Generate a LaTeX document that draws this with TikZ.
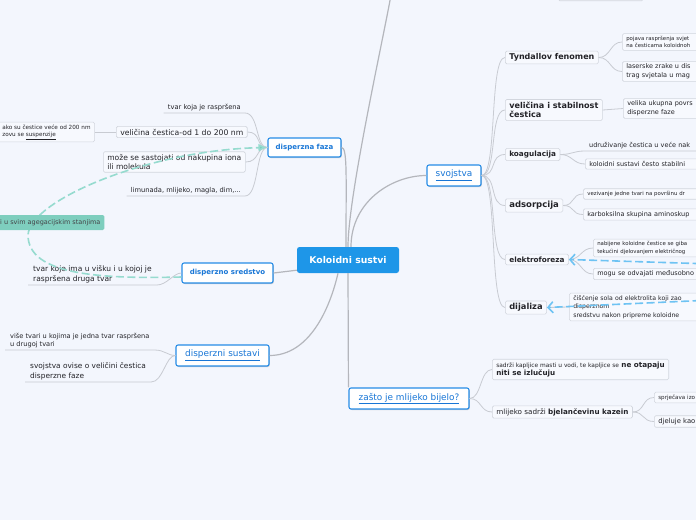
\documentclass[tikz,border=0pt]{standalone}
\usepackage{fontspec}
\setmainfont{DejaVu Sans}
\usetikzlibrary{arrows.meta,calc,shadows}
\definecolor{bgc}{RGB}{243,246,253}
\definecolor{rootblue}{RGB}{30,150,232}
\definecolor{mblue}{RGB}{38,140,230}
\definecolor{mtext}{RGB}{24,118,214}
\definecolor{boxgray}{RGB}{210,214,222}
\definecolor{boxfill}{RGB}{247,249,254}
\definecolor{lgray}{RGB}{200,203,210}
\definecolor{mgray}{RGB}{180,182,188}
\definecolor{txt}{RGB}{35,35,40}
\definecolor{tealfill}{RGB}{126,206,190}
\definecolor{tealline}{RGB}{150,219,207}
\definecolor{tealtip}{RGB}{120,205,190}
\definecolor{relblue}{RGB}{110,195,243}
\newcommand\fsz[2]{\fontsize{#1}{#2}\selectfont}
\tikzset{
 bx/.style={draw=boxgray, fill=boxfill, rounded corners=1.5pt, line width=0.6pt, inner xsep=4pt, inner ysep=2.5pt, align=left, text=txt, anchor=west},
 plain/.style={inner xsep=4pt, inner ysep=2pt, align=left, text=txt},
 rootnode/.style={fill=rootblue, rounded corners=2.5pt, text=white, font=\fsz{9.3}{11}\bfseries, minimum width=102pt, minimum height=26pt, inner sep=0pt},
 mainnode/.style={draw=mblue, line width=1.1pt, fill=white, rounded corners=2pt, text=mtext, inner sep=0pt, drop shadow={shadow xshift=0.8pt, shadow yshift=-1pt, fill=black, opacity=0.18}},
 conn/.style={draw=lgray, line width=0.8pt},
 mconn/.style={draw=mgray, line width=1.2pt},
 rel/.style={dash pattern=on 8pt off 3.5pt, line width=1.6pt},
}
\begin{document}
\begin{tikzpicture}[x=1pt,y=-1pt]
\useasboundingbox (0,0) rectangle (696,520);
\fill[bgc] (0,0) rectangle (696,520);
\clip (0,0) rectangle (696,520);

% ---------- main nodes
\node[rootnode] (root) at (348,260) {Koloidni sustvi};
\node[mainnode, font=\fsz{7}{8.5}\bfseries, minimum width=73pt, minimum height=19pt] (df) at (304.5,147.5) {disperzna faza};
\node[mainnode, font=\fsz{7}{8.5}\bfseries, minimum width=91pt, minimum height=20pt] (ds) at (227.5,273) {disperzno sredstvo};
\node[mainnode, font=\fsz{8.9}{10.5}, minimum width=93pt, minimum height=21pt] (dsu) at (222.5,355.5) {\underline{disperzni sustavi}};
\node[mainnode, font=\fsz{8.9}{10.5}, minimum width=54pt, minimum height=21pt] (svo) at (454,175.5) {\underline{svojstva}};
\node[mainnode, font=\fsz{8.9}{10.5}, minimum width=120pt, minimum height=21pt] (mlij) at (409,398.5) {\underline{zašto je mlijeko bijelo?}};
\node[bx, anchor=south west, minimum width=85pt, minimum height=20pt] (topbox) at (558,1) {};
\coordinate (topend) at (391,-5);

% ---------- left side
\node[plain, anchor=south east, font=\fsz{6.7}{8}] (t1) at (245,113) {tvar koja je raspršena};
\node[bx, font=\fsz{7.7}{9}] (veli) at (116,132) {veličina čestica-od 1 do 200 nm};
\node[bx, font=\fsz{5.7}{7}] (ako) at (-2,132) {ako su čestice veće od 200 nm\\zovu se \underline{suspenzije}};
\node[bx, font=\fsz{7.6}{9.3}] (moze) at (103,162) {može se sastojati od nakupina iona\\ili molekula};
\node[plain, anchor=south east, font=\fsz{6.7}{8}] (lim) at (245,196) {limunada, mlijeko, magla, dim,...};
\node[plain, anchor=south west, inner xsep=5pt, font=\fsz{7.5}{9.5}] (t2) at (28,285) {tvar koje ima u višku i u kojoj je\\raspršena druga tvar};
\node[plain, anchor=south west, inner xsep=5pt, font=\fsz{6.6}{8}] (vise) at (5,350) {više tvari u kojima je jedna tvar raspršena\\u drugoj tvari};
\node[plain, anchor=south west, inner xsep=5pt, font=\fsz{7.4}{9.5}] (sv) at (25,382) {svojstva ovise o veličini čestica\\disperzne faze};

% ---------- right side (svojstva)
\node[bx, font=\fsz{8}{9.5}\bfseries] (tyn) at (505,57.5) {Tyndallov fenomen};
\node[bx, font=\fsz{5.4}{7.3}, text width=110pt] (tyn1) at (622,42) {pojava raspršenja svjet\\na česticama koloidnoh};
\node[bx, font=\fsz{6.5}{8.6}, text width=110pt] (tyn2) at (622,71.5) {laserske zrake u dis\\trag svjetala u mag};
\node[bx, font=\fsz{8.1}{9.5}\bfseries] (vel) at (505,110) {veličina i stabilnost\\čestica};
\node[bx, font=\fsz{6.5}{8.6}, text width=110pt] (vel1) at (623,108.5) {velika ukupna povrs\\disperzne faze};
\node[bx, font=\fsz{7.3}{8.5}\bfseries] (koag) at (505,154.5) {koagulacija};
\node[plain, anchor=south west, font=\fsz{6.5}{8.5}, text width=130pt] (koag1) at (585,151) {udruživanje čestica u veće nak};
\node[bx, font=\fsz{6.5}{8.5}, text width=130pt] (koag2) at (585,164) {koloidni sustavi često stabilni};
\node[bx, font=\fsz{8.5}{10}\bfseries] (ads) at (505,205.5) {adsorpcija};
\node[bx, font=\fsz{5.4}{7.3}, text width=130pt] (ads1) at (583,194) {vezivanje jedne tvari na površinu dr};
\node[bx, font=\fsz{6.5}{8.5}, text width=130pt] (ads2) at (583,214.5) {karboksilna skupina aminoskup};
\node[bx, font=\fsz{7.3}{8.5}\bfseries] (elek) at (505,259.5) {elektroforeza};
\node[bx, font=\fsz{5.4}{7.3}, text width=130pt] (elek1) at (593,248) {nabijene koloidne čestice se giba\\tekućini djelovanjem električnog};
\node[bx, font=\fsz{6.5}{8.5}, text width=130pt] (elek2) at (593,274) {mogu se odvajati međusobno};
\node[bx, font=\fsz{8.3}{10}\bfseries] (dij) at (505,307.5) {dijaliza};
\node[bx, font=\fsz{6.2}{8.2}, text width=150pt] (dij1) at (569,307) {čišćenje sola od elektrolita koji zao\\disperznom\\sredstvu nakon pripreme koloidne};

% ---------- bottom right (mlijeko)
\node[bx, font=\fsz{7.2}{8.5}] (ml1) at (492,369.5) {{\fontsize{5.9}{8}\selectfont sadrži kapljice masti u vodi, te kapljice se} \textbf{ne otapaju}\\\textbf{niti se izlučuju}};
\node[bx, font=\fsz{7.2}{8.5}] (ml2) at (492,412) {mlijeko sadrži \textbf{bjelančevinu kazein}};
\node[bx, font=\fsz{5.6}{7.3}, text width=60pt] (ml2a) at (654,397.5) {sprječava izo};
\node[bx, font=\fsz{6.8}{8.5}, text width=60pt] (ml2b) at (654,421.5) {djeluje kao};

% ---------- main connectors
\draw[mconn] (df.east) .. controls +(6,0) and +(0,-70) .. ([xshift=-2pt]root.north);
\draw[mconn] ([xshift=3pt]root.north) .. controls +(0,-45) and +(-35,0) .. (svo.west);
\draw[mconn] (root.north) .. controls +(0,-50) and +(-8,45) .. (topend);
\draw[mconn] (ds.east) -- ($(root.south west)+(0,-3)$);
\draw[mconn] (dsu.east) .. controls +(40,0) and +(-8,35) .. ([xshift=-10pt]root.south);
\draw[mconn] (root.south) -- (mlij.north west);

% ---------- left connectors
\draw[conn] (ako.east) -- (veli.west);
\draw[conn] (veli.east) .. controls +(14,0) and +(-12,0) .. (df.west);
\draw[conn] (moze.east) .. controls +(14,0) and +(-12,0) .. (df.west);
\draw[conn] (t1.south west) -- (t1.south east) .. controls +(14,0) and +(-12,0) .. (df.west);
\draw[conn] (lim.south west) -- (lim.south east) .. controls +(14,0) and +(-12,0) .. (df.west);
\draw[conn] (t2.south west) -- (t2.south east) .. controls +(10,0) and +(-8,0) .. (ds.west);
\draw[conn] (vise.south west) -- (vise.south east) .. controls +(10,0) and +(-8,0) .. (dsu.west);
\draw[conn] (sv.south west) -- (sv.south east) .. controls +(12,0) and +(-10,0) .. (dsu.west);

% ---------- right connectors
\foreach \n in {tyn,vel,koag,ads,elek,dij}
  \draw[conn] (svo.east) .. controls +(16,0) and +(-16,0) .. (\n.west);
\draw[conn] (tyn.east) .. controls +(12,0) and +(-12,0) .. (tyn1.west);
\draw[conn] (tyn.east) .. controls +(12,0) and +(-12,0) .. (tyn2.west);
\draw[conn] (vel.east) -- (vel1.west);
\draw[conn] (koag.east) .. controls +(12,0) and +(-12,0) .. (koag1.south west) -- (koag1.south east);
\draw[conn] (koag.east) .. controls +(12,0) and +(-12,0) .. (koag2.west);
\draw[conn] (ads.east) .. controls +(12,0) and +(-12,0) .. (ads1.west);
\draw[conn] (ads.east) .. controls +(12,0) and +(-12,0) .. (ads2.west);
\draw[conn] (elek.east) .. controls +(12,0) and +(-12,0) .. (elek1.west);
\draw[conn] (elek.east) .. controls +(12,0) and +(-12,0) .. (elek2.west);
\draw[conn] (dij.east) -- (dij1.west);
\draw[conn] (mlij.east) .. controls +(12,0) and +(-12,0) .. (ml1.west);
\draw[conn] (mlij.east) .. controls +(12,0) and +(-12,0) .. (ml2.west);
\draw[conn] (ml2.east) .. controls +(12,0) and +(-12,0) .. (ml2a.west);
\draw[conn] (ml2.east) .. controls +(12,0) and +(-12,0) .. (ml2b.west);

% ---------- relationship connectors
\draw[rel, draw=tealline, -{Latex[length=9pt,width=8pt,fill=tealtip]}]
  ($(ds.west)+(0,4)$) .. controls (100,279) and (28,275) .. (28,235)
  .. controls (30,200) and (150,150) .. (df.west);
\node[fill=tealfill, rounded corners=1.5pt, anchor=west, font=\fsz{6.5}{7.5}, text=txt!85, inner xsep=4pt, minimum height=15pt] (lbl) at (-4,222.5) {i u svim agegacijskim stanjima};
\coordinate (ef) at (712,264);
\coordinate (dj) at (712,300);
\draw[rel, draw=relblue, -{Straight Barb[length=5pt,width=11pt]}] (ef) -- (elek.east);
\draw[rel, draw=relblue, -{Straight Barb[length=5pt,width=11pt]}] (dj) -- (dij.east);
\end{tikzpicture}
\end{document}
